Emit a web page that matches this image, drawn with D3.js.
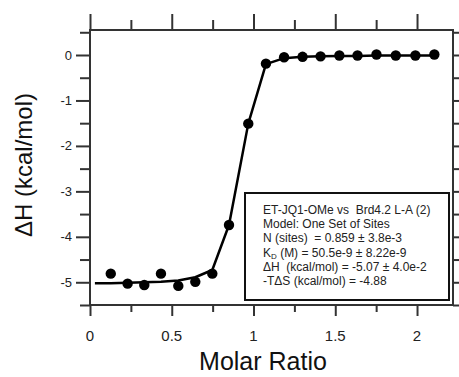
<!DOCTYPE html>
<html>
<head>
<meta charset="utf-8">
<script src="https://cdn.jsdelivr.net/npm/d3@7"></script>
<style>
body { margin: 0; background: #fff; }
svg { font-family: Arial, "Liberation Sans", sans-serif; }
.boxtext { white-space: pre; }
</style>
</head>
<body>
<div class="chart"></div>
<script>
// data
var molarRatio = [0.127, 0.23, 0.332, 0.434, 0.54, 0.644, 0.748, 0.85, 0.968, 1.076, 1.187, 1.30, 1.41, 1.525, 1.636, 1.752, 1.87, 1.99, 2.106];
var deltaH = [-4.81, -5.03, -5.06, -4.81, -5.08, -4.99, -4.81, -3.74, -1.51, -0.19, -0.05, -0.04, -0.03, -0.01, -0.01, 0.01, -0.01, -0.01, 0.01];
var fitX = [0.03, 0.127, 0.23, 0.332, 0.434, 0.54, 0.644, 0.748, 0.85, 0.968, 1.076, 1.187, 1.30, 1.41, 1.525, 1.636, 1.752, 1.87, 1.99, 2.106];
var fitY = [-5.02, -5.02, -5.01, -5.0, -4.99, -4.96, -4.89, -4.73, -3.74, -1.51, -0.2, -0.07, -0.04, -0.03, -0.02, -0.02, -0.01, -0.01, -0.01, -0.01];
var xTicks = [0, 0.5, 1, 1.5, 2];
var xTickLabels = ["0", "0.5", "1", "1.5", "2"];
var xMinor = [0.25, 0.75, 1.25, 1.75];
var yTicks = [0, -1, -2, -3, -4, -5];
var yMinor = [0.5, -0.5, -1.5, -2.5, -3.5, -4.5, -5.5];
var legendLines = [
    "ET-JQ1-OMe vs  Brd4.2 L-A (2)",
    "Model: One Set of Sites",
    "N (sites)  = 0.859 \u00b1 3.8e-3",
    "K|D| (M) = 50.5e-9 \u00b1 8.22e-9",
    "\u0394H  (kcal/mol) = -5.07 \u00b1 4.0e-2",
    "-T\u0394S (kcal/mol) = -4.88"
];

var svgWidth = 459;
var svgHeight = 377;
var plot = {left: 90, right: 453, top: 30, bottom: 305};

var svg = d3.select('.chart').append('svg').attr('width', svgWidth).attr('height', svgHeight);

var xScale = d3.scaleLinear().domain([0, 2.22]).range([plot.left, plot.right]);
var yScale = d3.scaleLinear().domain([-5.5, 0.55]).range([plot.bottom, plot.top]);

var axisColor = "#333";

//frame
svg.append("rect").attr("x", plot.left).attr("y", plot.top)
    .attr("width", plot.right - plot.left).attr("height", plot.bottom - plot.top)
    .attr("fill", "none").attr("stroke", axisColor).attr("stroke-width", 2);

//axes, ticks outside on all four sides
function addAxis(axis, tr, ticks, size) {
    var g = svg.append("g").attr("transform", tr)
        .call(axis.tickValues(ticks).tickSize(size).tickFormat(""));
    g.select(".domain").remove();
    g.selectAll("line").attr("stroke", axisColor).attr("stroke-width", 2);
    return g;
}
addAxis(d3.axisBottom(xScale), `translate(0,${plot.bottom})`, xTicks, 11);
addAxis(d3.axisBottom(xScale), `translate(0,${plot.bottom})`, xMinor, 7);
addAxis(d3.axisTop(xScale), `translate(0,${plot.top})`, xTicks, 16);
addAxis(d3.axisTop(xScale), `translate(0,${plot.top})`, xMinor, 10);
addAxis(d3.axisLeft(yScale), `translate(${plot.left},0)`, yTicks, 14);
addAxis(d3.axisLeft(yScale), `translate(${plot.left},0)`, yMinor, 10);
addAxis(d3.axisRight(yScale), `translate(${plot.right},0)`, yTicks, 14);
addAxis(d3.axisRight(yScale), `translate(${plot.right},0)`, yMinor, 10);

//tick labels
svg.selectAll(".xlab").data(xTicks).enter().append("text")
    .attr("x", function(d){ return xScale(d); }).attr("y", 341)
    .attr("text-anchor", "middle").attr("font-size", "15px").attr("fill", "#222")
    .text(function(d, i){ return xTickLabels[i]; });

svg.selectAll(".ylab").data(yTicks).enter().append("text")
    .attr("x", 72).attr("y", function(d){ return yScale(d) + 4.5; })
    .attr("text-anchor", "end").attr("font-size", "13px").attr("fill", "#222")
    .text(function(d){ return d; });

//axis titles
svg.append("text").attr("x", 263).attr("y", 370).attr("text-anchor", "middle")
    .attr("font-size", "25px").attr("fill", "#111").text("Molar Ratio");
svg.append("text").attr("transform", "translate(32,165)rotate(-90)").attr("text-anchor", "middle")
    .attr("font-size", "24px").attr("fill", "#111").text("\u0394H (kcal/mol)");

//fit line
var line = d3.line().x(function(d){ return xScale(d[0]); }).y(function(d){ return yScale(d[1]); });
svg.append("path").datum(fitX.map(function(x, i){ return [x, fitY[i]]; }))
    .attr("d", line).attr("fill", "none").attr("stroke", "#000").attr("stroke-width", 2.5)
    .attr("stroke-linejoin", "round");

//data points
svg.selectAll("circle").data(molarRatio).enter().append("circle")
    .attr("cx", function(d){ return xScale(d); })
    .attr("cy", function(d, i){ return yScale(deltaH[i]); })
    .attr("r", 5.2).attr("fill", "#000");

//results box
svg.append("rect").attr("x", 245).attr("y", 193).attr("width", 204).attr("height", 107)
    .attr("fill", "#fff").attr("stroke", "#111").attr("stroke-width", 2);

legendLines.forEach(function(s, i){
    var t = svg.append("text").attr("class", "boxtext").attr("x", 263).attr("y", 214 + i * 14.2)
        .attr("font-size", "12px").attr("fill", "#222");
    var parts = s.split("|");
    if (parts.length == 3) {
        t.append("tspan").text(parts[0]);
        t.append("tspan").attr("font-size", "8px").attr("dy", 2).text(parts[1]);
        t.append("tspan").attr("dy", -2).text(parts[2]);
    } else {
        t.text(s);
    }
});
</script>
</body>
</html>
